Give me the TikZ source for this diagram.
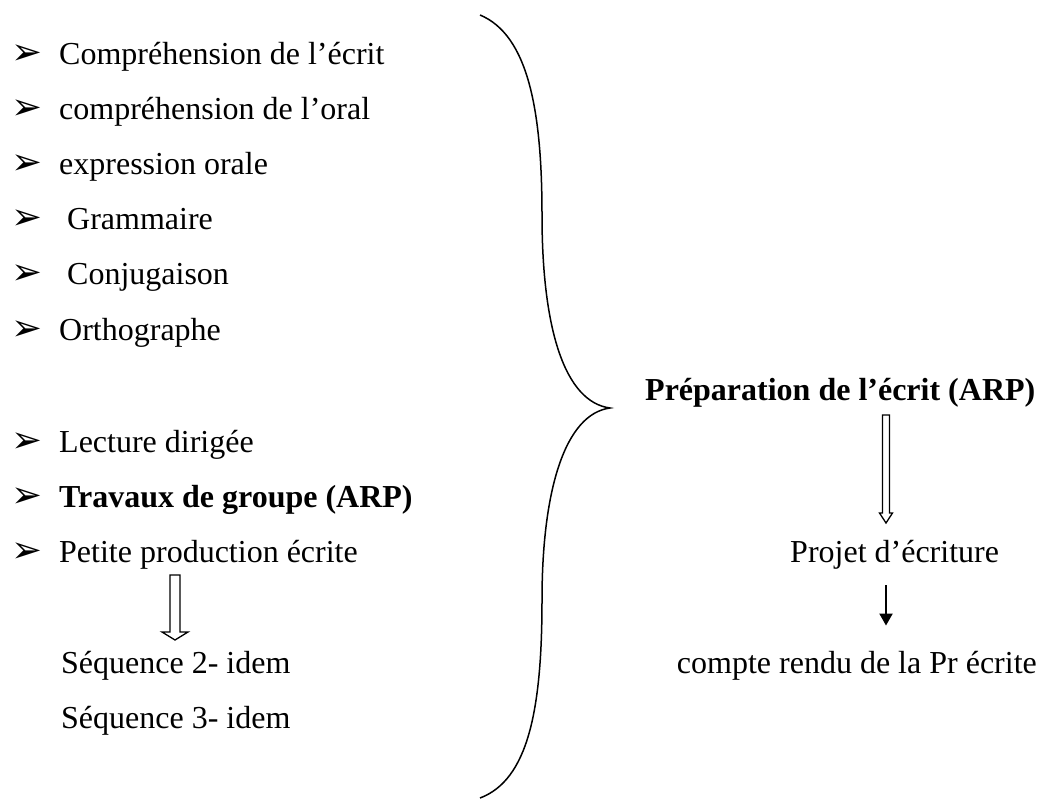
\documentclass[tikz,border=0pt]{standalone}
\usepackage{fontspec}
\setmainfont{Liberation Serif}
\newfontfamily\puces{DejaVu Sans}
\usetikzlibrary{arrows.meta}

\tikzset{
  texte/.style={anchor=base west, inner sep=0pt, font=\fontsize{32}{38}\selectfont},
  puce/.style={anchor=base west, inner sep=0pt, font=\puces\fontsize{37}{40}\selectfont},
  creux/.style={line width=1.3pt, line join=miter},
  noire/.style={line width=2pt, -{Triangle[width=13pt,length=12pt]}},
}

\begin{document}
\begin{tikzpicture}[x=1pt, y=-1pt]
    \useasboundingbox (0,0) rectangle (1041,802);

    % liste de gauche
    \foreach \y/\nom in {65/p1,120/p2,175/p3,230/p4,285/p5,340/p6,452/p7,507/p8,562/p9}
        \node[puce] (\nom) at (11,\y) {➢};
    \node[texte] (l1) at (59,65) {Compréhension de l’écrit};
    \node[texte] (l2) at (59,120) {compréhension de l’oral};
    \node[texte] (l3) at (59,175) {expression orale};
    \node[texte] (l4) at (67,230) {Grammaire};
    \node[texte] (l5) at (67,285) {Conjugaison};
    \node[texte] (l6) at (59,340) {Orthographe};
    \node[texte] (l7) at (59,452) {Lecture dirigée};
    \node[texte] (l8) at (59,507) {\bfseries Travaux de groupe (ARP)};
    \node[texte] (l9) at (59,562) {Petite production écrite};
    \node[texte] (seq2) at (61,673) {Séquence 2- idem};
    \node[texte] (seq3) at (61,728) {Séquence 3- idem};

    % fleche creuse gauche
    \coordinate (c1) at (175,575);
    \draw[creux] (c1) ++(-5,0) -- ++(10,0) -- ++(0,57) -- ++(8,0)
        -- ++(-13,8) -- ++(-13,-8) -- ++(8,0) -- cycle;

    % accolade
    \draw[line width=1.5pt] (480,15) .. controls (528,35) and (542,110) .. (542,215)
        .. controls (542,330) and (565,402) .. (610,408)
        .. controls (565,414) and (542,490) .. (542,600)
        .. controls (542,710) and (528,780) .. (480,798);

    % colonne de droite
    \node[texte] (prep) at (645,400) {\bfseries Préparation de l’écrit (ARP)};
    \node[texte] (projet) at (790,562) {Projet d’écriture};
    \node[texte, anchor=base east] (compte) at (1037,673) {compte rendu de la Pr écrite};

    \coordinate (c2) at (886,415);
    \draw[creux] (c2) ++(-3.5,0) -- ++(7,0) -- ++(0,98) -- ++(3,0)
        -- ++(-6.5,10) -- ++(-6.5,-10) -- ++(3,0) -- cycle;

    \coordinate (fx) at (886,0);
    \draw[noire, shorten <=16pt, shorten >=25pt] (projet.south -| fx) -- (compte.north -| fx);
\end{tikzpicture}
\end{document}
